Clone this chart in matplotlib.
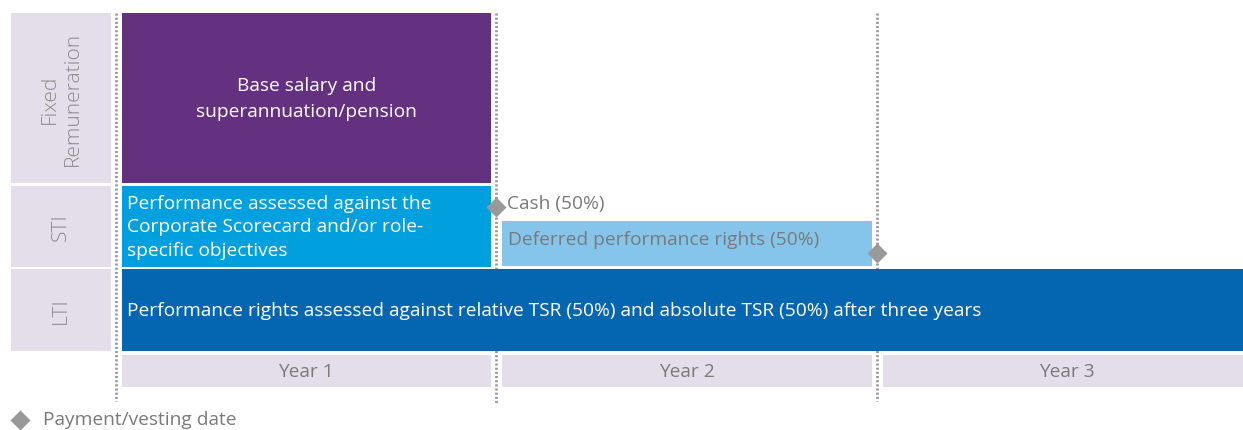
import matplotlib.pyplot as plt
from matplotlib.patches import Rectangle

plt.rcParams['font.family'] = ['Open Sans', 'DejaVu Sans']

# rows of the remuneration framework
rows = ['Fixed\nRemuneration', 'STI', 'LTI']
row_top = [14, 187, 270]
row_bottom = [184, 268, 352]

years = ['Year 1', 'Year 2', 'Year 3']

# segments: row index, start year, end year, label
seg_row = [0, 1, 1, 2]
seg_start = [0, 0, 1, 0]
seg_end = [1, 1, 2, 3.2]
seg_label = [
    'Base salary and\nsuperannuation/pension',
    'Performance assessed against the\nCorporate Scorecard and/or role-\nspecific objectives',
    'Deferred performance rights (50%)',
    'Performance rights assessed against relative TSR (50%) and absolute TSR (50%) after three years',
]
seg_color = ['#643080', '#00A0DF', '#85C5EC', '#0465B0']
seg_text_color = ['white', 'white', '#7a7a7a', 'white']

# payment / vesting dates (year)
vest_year = [1, 2]
vest_label = ['Cash (50%)', '']

YEAR_PX = 380.5
X0_PX = 116
W, H = 1243, 431
GAP = 5.5 / YEAR_PX

fig = plt.figure(figsize=(W / 100, H / 100), dpi=100)
ax = fig.add_axes([0, 0, 1, 1])
ax.set_xlim(-X0_PX / YEAR_PX, (W - X0_PX) / YEAR_PX)
ax.set_ylim(H, 0)
ax.axis('off')

lav = '#E3DEEA'
grey_txt = '#7a7a7a'
fs = 13.8

# dotted year boundaries (behind the boxes)
for yr, y_end in zip([0, 1, 2], [402, 405, 402]):
    ax.plot([yr, yr], [14, y_end], color='#999999', lw=2.0,
            linestyle=(0, (0.75, 0.75)), zorder=1)

# row label column
lab_x0 = -105 / YEAR_PX
lab_x1 = -5 / YEAR_PX
for name, t, b in zip(rows, row_top, row_bottom):
    ax.add_patch(Rectangle((lab_x0, t), lab_x1 - lab_x0, b - t,
                           facecolor=lav, edgecolor='none', zorder=2))
    ax.text((lab_x0 + lab_x1) / 2, (t + b) / 2, name, rotation=90,
            ha='center', va='center', color='#8a8a8a', fontsize=15,
            fontweight='light', linespacing=1.2, zorder=3)

# segments
for r, s, e, lab, c, tc in zip(seg_row, seg_start, seg_end, seg_label,
                                seg_color, seg_text_color):
    t, b = row_top[r], row_bottom[r]
    x0 = s + GAP
    x1 = e - GAP
    if lab.startswith('Deferred'):
        t = 222
        b = 267
    ax.add_patch(Rectangle((x0, t), x1 - x0, b - t, facecolor=c,
                           edgecolor='none', zorder=2))
    if r == 0:
        ax.text((x0 + x1) / 2, (t + b) / 2, lab, ha='center', va='center',
                color=tc, fontsize=fs, linespacing=1.6, zorder=3)
    elif lab.startswith('Deferred'):
        ax.text(x0 + 6 / YEAR_PX, 240, lab, ha='left', va='center',
                color=tc, fontsize=fs, zorder=3)
    else:
        ax.text(x0 + 5 / YEAR_PX, (t + b) / 2, lab, ha='left', va='center',
                color=tc, fontsize=fs, linespacing=1.42, zorder=3)

# year boxes
for i, name in enumerate(years):
    x0 = i + GAP
    x1 = i + 1 - GAP
    ax.add_patch(Rectangle((x0, 356), x1 - x0, 32, facecolor=lav,
                           edgecolor='none', zorder=2))
    ax.text(i + 0.5, 372, name, ha='center', va='center',
            color=grey_txt, fontsize=fs, zorder=3)

# vesting markers
ax.plot(vest_year[0], 208, marker='D', ms=10, color='#999999', mec='none', zorder=4)
ax.text(vest_year[0] + 11 / YEAR_PX, 204, vest_label[0], ha='left', va='center',
        color=grey_txt, fontsize=fs, zorder=4)
ax.plot(vest_year[1], 254, marker='D', ms=10, color='#999999', mec='none', zorder=4)

# legend
ax.plot(-96 / YEAR_PX, 421, marker='D', ms=10, color='#999999', mec='none',
        clip_on=False)
ax.text(-73 / YEAR_PX, 420, 'Payment/vesting date', ha='left', va='center',
        color=grey_txt, fontsize=fs)

fig.savefig('out.png', dpi=100)
